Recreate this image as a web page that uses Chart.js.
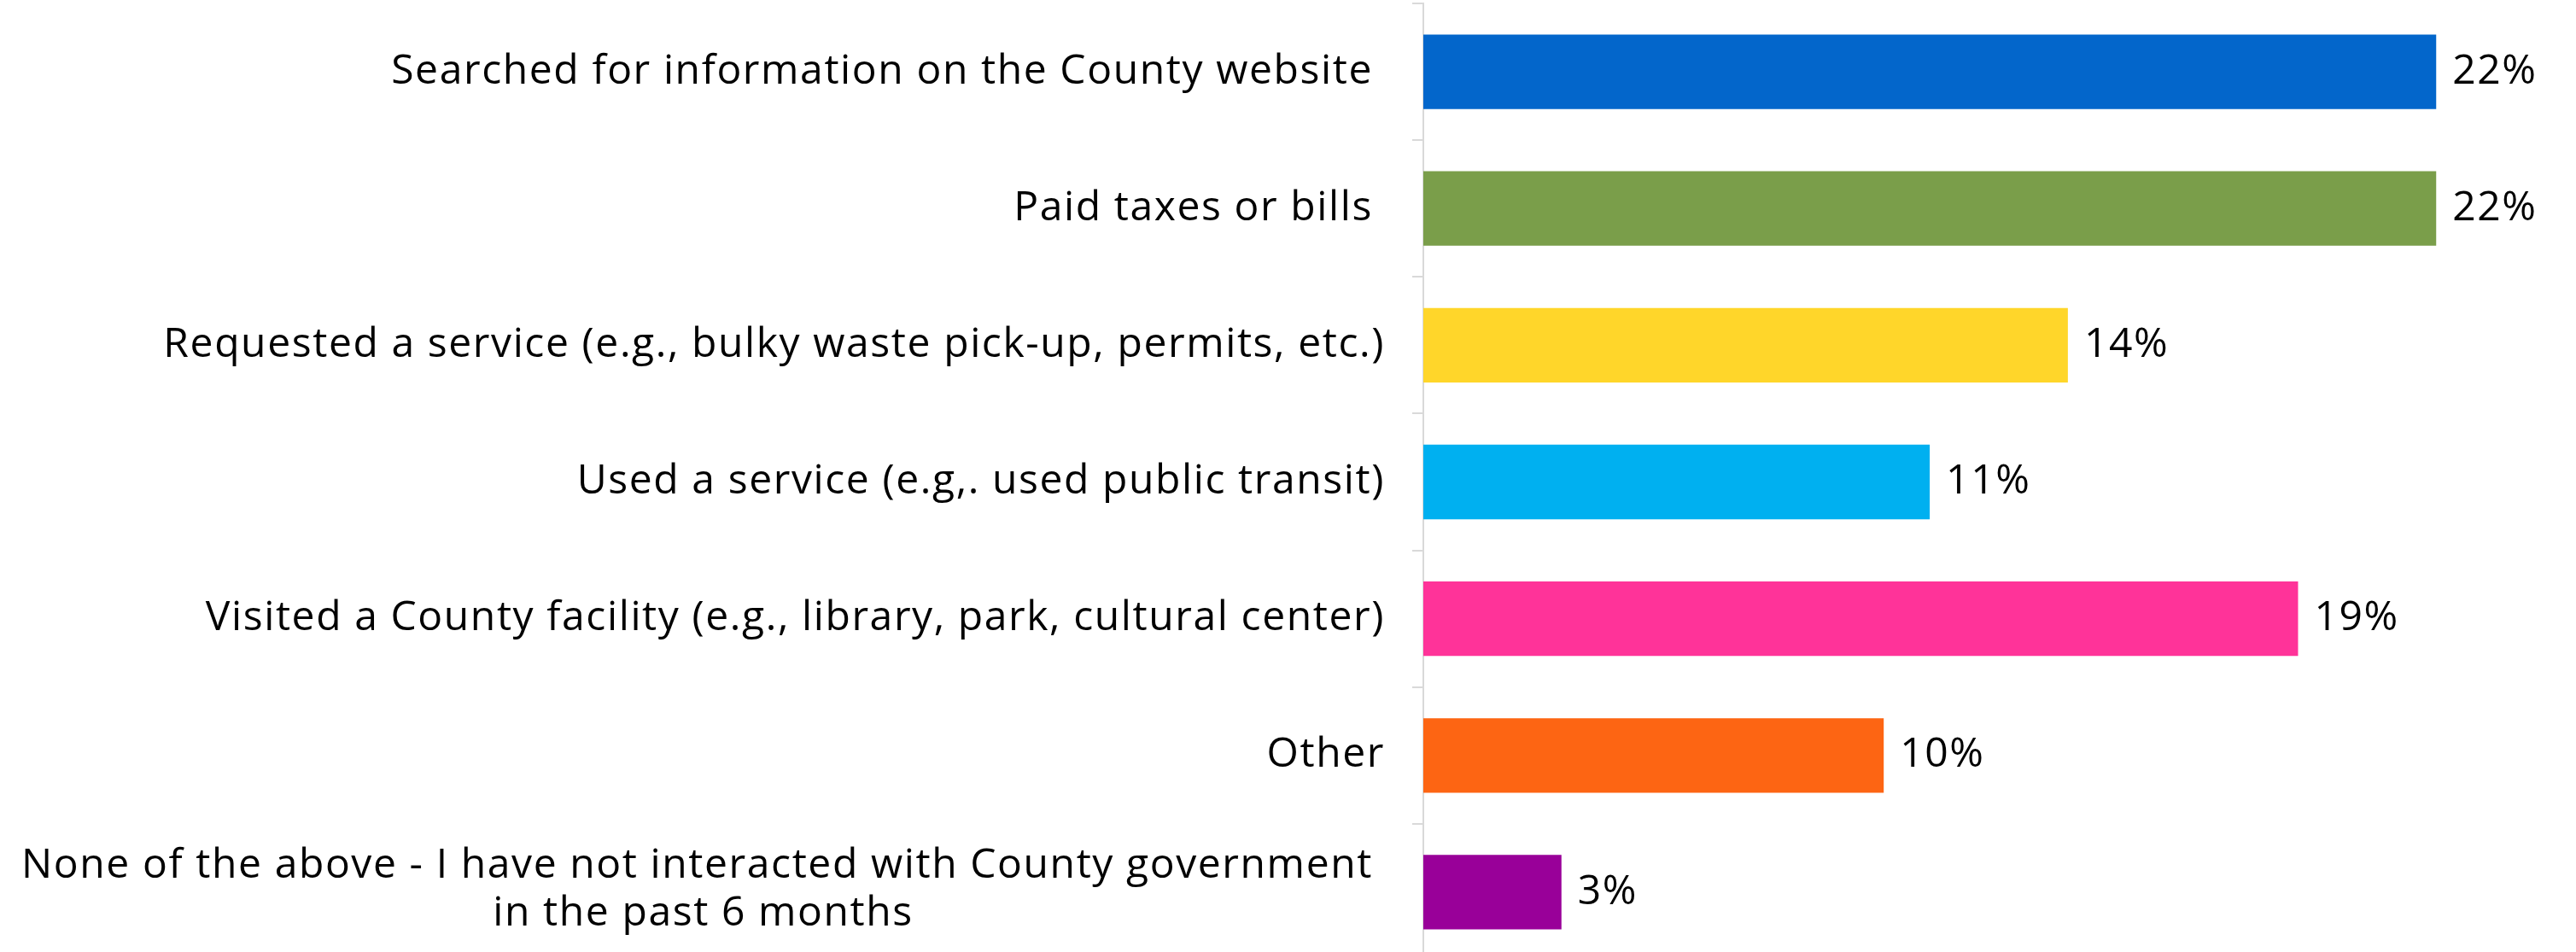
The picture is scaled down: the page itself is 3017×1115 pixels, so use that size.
<!DOCTYPE html>
<html>
<head>
<meta charset="utf-8">
<script src="https://cdn.jsdelivr.net/npm/chart.js@4.4.1/dist/chart.umd.min.js"></script>
<style>
  html, body { margin: 0; padding: 0; background: #fff; overflow: hidden; }
  #wrap { position: absolute; left: 0; top: 0; width: 3017px; height: 1125px; }
</style>
</head>
<body>
<div id="wrap"><canvas id="c" width="3017" height="1125"></canvas></div>
<script>
// Ways residents interacted with County government (share of responses, %)
const categories = [
  'Searched for information on the County website ',
  'Paid taxes or bills ',
  'Requested a service (e.g., bulky waste pick-up, permits, etc.)',
  'Used a service (e.g,. used public transit)',
  'Visited a County facility (e.g., library, park, cultural center)',
  'Other',
  ['None of the above - I have not interacted with County government ', 'in the past 6 months']
];
const values = [22, 22, 14, 11, 19, 10, 3];
const barColors = ['#0366cb', '#7a9e4a', '#ffd62a', '#00b0f0', '#ff3399', '#fd6513', '#990099'];

const FONT_FAMILY = '"Open Sans", sans-serif';
const FONT_SIZE = 48;
const LETTER_SPACING = '1.6px';
const LINE_H = 56;
const AXIS_X = 1667;      // left edge of the plot area
const LABEL_GAP = 45;     // space between category text and axis line

function setTextStyle(ctx) {
  ctx.font = FONT_SIZE + 'px ' + FONT_FAMILY;
  ctx.fillStyle = '#000';
  ctx.textBaseline = 'middle';
  if ('letterSpacing' in ctx) ctx.letterSpacing = LETTER_SPACING;
}

// Category labels: block right-aligned to the axis, lines centred within the block
const categoryLabels = {
  id: 'categoryLabels',
  afterDraw(chart) {
    const { ctx } = chart;
    const y = chart.scales.y;
    ctx.save();
    setTextStyle(ctx);
    ctx.textAlign = 'center';
    const right = chart.chartArea.left - LABEL_GAP;
    categories.forEach((lab, i) => {
      const lines = Array.isArray(lab) ? lab : [lab];
      const w = Math.max(...lines.map(l => ctx.measureText(l).width));
      const cx = right - w / 2;
      const cy = y.getPixelForValue(i) - 3 * (lines.length - 1);
      lines.forEach((l, k) => {
        ctx.fillText(l, cx, cy + (k - (lines.length - 1) / 2) * LINE_H);
      });
    });
    ctx.restore();
  }
};

// Percentage labels just past the end of each bar
const valueLabels = {
  id: 'valueLabels',
  afterDatasetsDraw(chart) {
    const { ctx } = chart;
    const meta = chart.getDatasetMeta(0);
    ctx.save();
    setTextStyle(ctx);
    ctx.textAlign = 'left';
    meta.data.forEach((bar, i) => {
      ctx.fillText(values[i] + '%', bar.x + 19, bar.y);
    });
    ctx.restore();
  }
};

new Chart(document.getElementById('c'), {
  type: 'bar',
  data: {
    labels: categories,
    datasets: [{
      data: values,
      backgroundColor: barColors,
      borderWidth: 0,
      barPercentage: 0.545,
      categoryPercentage: 1
    }]
  },
  options: {
    indexAxis: 'y',
    responsive: false,
    animation: false,
    events: [],
    layout: { padding: { top: 4, right: 2, bottom: 0, left: 0 } },
    plugins: { legend: { display: false }, tooltip: { enabled: false }, title: { display: false } },
    scales: {
      x: { display: false, min: 0, max: 25 },
      y: {
        offset: true,
        afterFit(scale) { scale.width = AXIS_X; },
        grid: {
          display: true,
          offset: true,
          drawOnChartArea: false,
          drawTicks: true,
          tickLength: 13,
          color: '#d9d9d9',
          lineWidth: 2
        },
        border: { display: true, color: '#d9d9d9', width: 2 },
        ticks: { display: false }
      }
    }
  },
  plugins: [categoryLabels, valueLabels]
});
</script>
</body>
</html>
